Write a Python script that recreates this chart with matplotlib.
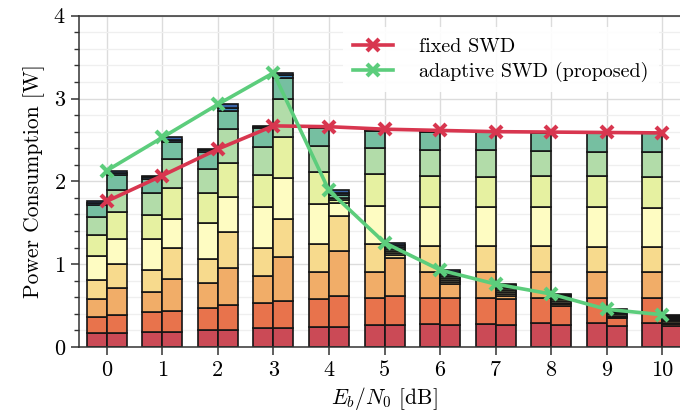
import matplotlib
matplotlib.use("Agg")
import matplotlib.pyplot as plt
import numpy as np

plt.rcParams['font.family'] = ['cmr10', 'DejaVu Serif']
plt.rcParams['mathtext.fontset'] = 'cm'
plt.rcParams['axes.formatter.use_mathtext'] = True

ebn0 = [0, 1, 2, 3, 4, 5, 6, 7, 8, 9, 10]
xtick_labels = ['0', '1', '2', '3', '4', '5', '6', '7', '8', '9', '10']

# stacked segment heights (10 layers, bottom -> top) for each Eb/N0
fixed_segments = [
    [0.165, 0.195, 0.216, 0.234, 0.290, 0.250, 0.220, 0.150, 0.020, 0.020],
    [0.185, 0.235, 0.250, 0.260, 0.370, 0.290, 0.270, 0.170, 0.020, 0.020],
    [0.205, 0.270, 0.295, 0.290, 0.440, 0.360, 0.290, 0.210, 0.015, 0.015],
    [0.225, 0.310, 0.322, 0.333, 0.505, 0.385, 0.330, 0.230, 0.015, 0.015],
    [0.245, 0.335, 0.320, 0.344, 0.483, 0.383, 0.320, 0.210, 0.010, 0.010],
    [0.266, 0.322, 0.312, 0.340, 0.467, 0.378, 0.315, 0.210, 0.010, 0.010],
    [0.274, 0.314, 0.312, 0.324, 0.471, 0.370, 0.315, 0.220, 0.008, 0.007],
    [0.278, 0.317, 0.305, 0.320, 0.475, 0.362, 0.323, 0.210, 0.005, 0.005],
    [0.286, 0.302, 0.322, 0.310, 0.470, 0.380, 0.300, 0.210, 0.008, 0.007],
    [0.290, 0.300, 0.320, 0.300, 0.477, 0.373, 0.300, 0.220, 0.005, 0.005],
    [0.290, 0.300, 0.310, 0.310, 0.465, 0.375, 0.310, 0.220, 0.003, 0.002],
]
adaptive_segments = [
    [0.165, 0.221, 0.324, 0.290, 0.310, 0.320, 0.270, 0.180, 0.025, 0.025],
    [0.185, 0.250, 0.385, 0.370, 0.360, 0.370, 0.350, 0.210, 0.025, 0.025],
    [0.200, 0.307, 0.453, 0.425, 0.425, 0.410, 0.410, 0.220, 0.040, 0.040],
    [0.225, 0.335, 0.530, 0.450, 0.500, 0.490, 0.460, 0.255, 0.035, 0.030],
    [0.245, 0.365, 0.550, 0.420, 0.155, 0.035, 0.030, 0.030, 0.030, 0.030],
    [0.260, 0.350, 0.460, 0.040, 0.025, 0.025, 0.025, 0.025, 0.025, 0.025],
    [0.270, 0.318, 0.172, 0.025, 0.025, 0.025, 0.025, 0.025, 0.025, 0.020],
    [0.270, 0.306, 0.034, 0.025, 0.025, 0.025, 0.025, 0.020, 0.015, 0.015],
    [0.266, 0.229, 0.020, 0.020, 0.020, 0.020, 0.020, 0.020, 0.010, 0.015],
    [0.254, 0.096, 0.015, 0.015, 0.015, 0.015, 0.015, 0.010, 0.010, 0.010],
    [0.250, 0.030, 0.015, 0.015, 0.015, 0.015, 0.015, 0.010, 0.010, 0.015],
]
layer_colors = ['#cb4a56', '#e8734c', '#f1ad68', '#f7da8d', '#fefcc2',
                '#e6f1a1', '#b2dca9', '#76bfa1', '#3f86b8', '#3a64a8']

series_labels = ['fixed SWD', 'adaptive SWD (proposed)']
line_colors = ['#d8364f', '#5ccd7c']

fig = plt.figure(figsize=(6.8, 4.19), dpi=100)
ax = fig.add_axes([0.1162, 0.1718, 0.8985, 0.7907])

x = np.array(ebn0, dtype=float)
w = 0.36
for segs, off in ((fixed_segments, -w / 2), (adaptive_segments, w / 2)):
    arr = np.array(segs)
    bottom = np.zeros(len(x))
    for k in range(arr.shape[1]):
        ax.bar(x + off, arr[:, k], width=w, bottom=bottom, color=layer_colors[k],
               edgecolor='#151515', linewidth=1.2, zorder=2)
        bottom += arr[:, k]

fixed_total = np.array(fixed_segments).sum(axis=1)
adaptive_total = np.array(adaptive_segments).sum(axis=1)
for tot, lab, col in ((fixed_total, series_labels[0], line_colors[0]),
                      (adaptive_total, series_labels[1], line_colors[1])):
    ax.plot(x, tot, color=col, lw=2.6, marker='x', ms=8.5, mew=3, label=lab, zorder=4)

ax.set_xlim(-0.5, 10.5)
ax.set_ylim(0, 4)
ax.set_xticks(ebn0)
ax.set_xticklabels(xtick_labels)
ax.set_yticks([0, 1, 2, 3, 4])
ax.set_yticks(np.arange(0, 4.01, 0.2), minor=True)
ax.grid(True, which='major', color='#dcdcdc', lw=1.0, zorder=0)
ax.grid(True, which='minor', axis='y', color='#efefef', lw=0.9, zorder=0)
ax.set_axisbelow(True)
ax.tick_params(axis='both', which='major', labelsize=16, length=6, width=1.1,
               color='#333333', direction='out')
ax.tick_params(axis='y', which='minor', length=3.5, width=1.0, color='#333333')
ax.tick_params(axis='x', which='minor', length=0)
for s in ax.spines.values():
    s.set_color('#333333')
    s.set_linewidth(1.1)

ax.set_ylabel('Power Consumption [W]', fontsize=15.5, labelpad=6)
ax.set_xlabel(r'$E_b/N_0$ [dB]', fontsize=15.5, labelpad=4)

leg = ax.legend(loc='upper left', bbox_to_anchor=(0.415, 0.995), fontsize=14.5,
                frameon=True, facecolor='white', edgecolor='none', framealpha=0.9,
                handlelength=2.0, handletextpad=1.3, labelspacing=0.3, borderpad=0.5)
leg.set_zorder(5)

fig.savefig('out.png', dpi=100)
